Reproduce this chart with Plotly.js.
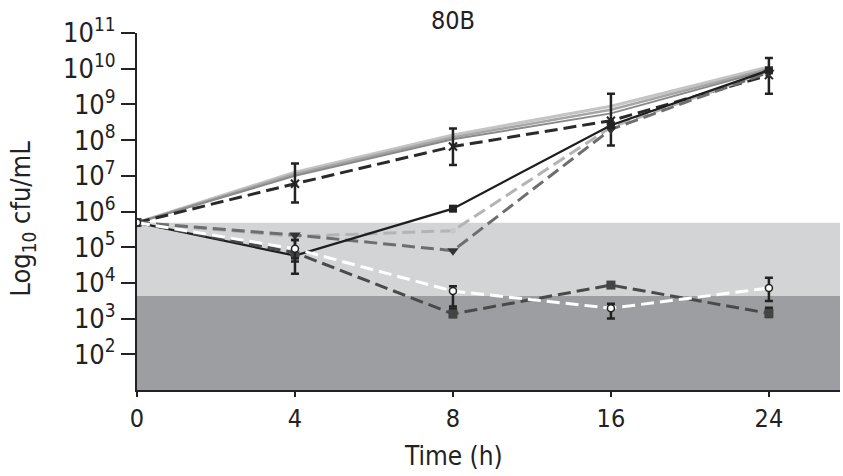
<!DOCTYPE html>
<html>
<head>
<meta charset="utf-8">
<script src="https://cdn.plot.ly/plotly-3.0.1.min.js"></script>
<style>html,body{margin:0;padding:0;background:#fff;}#chart{width:843px;height:476px;}</style>
</head>
<body>
<div id="chart"></div>
<script>
// Time points (h), equally spaced categories
var times = ['0', '4', '8', '16', '24'];

// Growth controls (grey solid lines), cfu/mL
var growthA = [4.9e5, 1.26e7, 1.4e8, 8.9e8, 1.12e10];
var growthB = [4.9e5, 1.12e7, 1.2e8, 7.1e8, 1.0e10];
var growthC = [4.9e5, 1.0e7, 1.05e8, 5.6e8, 9.3e9];

// Dark dashed series (cross markers) with error bars
var dashedBlack = [4.9e5, 6.0e6, 6.6e7, 3.5e8, 6.6e9];
var dashedBlackHi = [4.9e5, 2.2e7, 2.1e8, 2.0e9, 2.0e10];
var dashedBlackLo = [4.9e5, 1.8e6, 2.0e7, 7.1e7, 2.0e9];

// Regrowth series
var solidBlack = [4.9e5, 5.8e4, 1.2e6, 2.6e8, 9.0e9];
var lightGreyDash = [4.9e5, 2.0e5, 2.9e5, 2.3e8, 8.5e9];
var midGreyDash = [4.9e5, 2.2e5, 8.0e4, 2.0e8, 8.0e9];

// Killing series
var darkGreyDash = [4.9e5, 7.0e4, 1.35e3, 8.7e3, 1.4e3];
var darkGreyHi = [4.9e5, 1.6e5, 1.9e3, 1.0e4, 2.0e3];
var darkGreyLo = [4.9e5, 1.8e4, 1.1e3, 7.5e3, 1.1e3];
var whiteDash = [4.9e5, 9.0e4, 5.9e3, 1.95e3, 7.2e3];
var whiteHi = [4.9e5, 1.6e5, 8.1e3, 2.6e3, 1.4e4];
var whiteLo = [4.9e5, 4.0e4, 2.2e3, 1.0e3, 3.1e3];

// Shaded zones
var inoculum = 4.85e5;
var killLimit = 4.3e3;
var axisFloor = 10;

var yTickVals = [1e2, 1e3, 1e4, 1e5, 1e6, 1e7, 1e8, 1e9, 1e10, 1e11];
var yTickText = ['10<sup>2</sup>', '10<sup>3</sup>', '10<sup>4</sup>', '10<sup>5</sup>', '10<sup>6</sup>',
                 '10<sup>7</sup>', '10<sup>8</sup>', '10<sup>9</sup>', '10<sup>10</sup>', '10<sup>11</sup>'];

function errs(vals, hi, lo) {
  return {
    type: 'data', symmetric: false,
    array: vals.map(function (v, i) { return hi[i] - v; }),
    arrayminus: vals.map(function (v, i) { return v - lo[i]; }),
    color: '#222', thickness: 2.5, width: 4
  };
}

var DASH = '13px,6px';
var traces = [
  {x: times, y: growthA, mode: 'lines', line: {color: '#c4c4c4', width: 3}},
  {x: times, y: growthB, mode: 'lines', line: {color: '#a6a6a6', width: 2.5}},
  {x: times, y: growthC, mode: 'lines', line: {color: '#8a8a8a', width: 2}},
  {x: times, y: dashedBlack, mode: 'lines+markers', line: {color: '#2a2a2a', width: 3, dash: DASH},
   marker: {symbol: 'x-thin', size: 8, line: {color: '#222', width: 2}},
   error_y: errs(dashedBlack, dashedBlackHi, dashedBlackLo)},
  {x: times, y: lightGreyDash, mode: 'lines+markers', line: {color: '#b4b4b4', width: 3, dash: DASH},
   marker: {symbol: 'circle', size: 6, color: '#c8c8c8'}},
  {x: times, y: midGreyDash, mode: 'lines+markers', line: {color: '#6e6e6e', width: 3, dash: DASH},
   marker: {symbol: 'triangle-down', size: 10, color: '#333'}},
  {x: times, y: solidBlack, mode: 'lines+markers', line: {color: '#1e1e1e', width: 2.2},
   marker: {symbol: 'square', size: 8, color: '#222'}},
  {x: times, y: darkGreyDash, mode: 'lines+markers', line: {color: '#4a4a4a', width: 3, dash: DASH},
   marker: {symbol: 'square', size: 9, color: '#444'},
   error_y: errs(darkGreyDash, darkGreyHi, darkGreyLo)},
  {x: times, y: whiteDash, mode: 'lines+markers', line: {color: '#ffffff', width: 3, dash: DASH},
   marker: {symbol: 'circle', size: 7, color: '#fff', line: {color: '#222', width: 1.5}},
   error_y: errs(whiteDash, whiteHi, whiteLo)}
];

var FONT = '"Liberation Sans Narrow", "DejaVu Sans Condensed", "Open Sans", sans-serif';

var layout = {
  width: 843, height: 476,
  margin: {l: 137, r: 3, t: 33, b: 86},
  paper_bgcolor: '#fff', plot_bgcolor: '#fff',
  showlegend: false,
  font: {family: FONT, color: '#222', size: 24},
  xaxis: {
    type: 'category', range: [0, 4.45],
    showgrid: false, zeroline: false,
    showline: true, linecolor: '#222', linewidth: 2,
    ticks: 'outside', ticklen: 5, tickwidth: 2, tickcolor: '#222',
    tickfont: {family: FONT, size: 25, color: '#222'}
  },
  yaxis: {
    type: 'log', range: [1, 11],
    tickvals: yTickVals, ticktext: yTickText,
    showgrid: false, zeroline: false,
    showline: true, linecolor: '#222', linewidth: 2,
    ticks: 'outside', ticklen: 14, tickwidth: 2, tickcolor: '#222',
    tickfont: {family: FONT, size: 27, color: '#222'}
  },
  shapes: [
    {type: 'rect', xref: 'paper', yref: 'y', x0: 0, x1: 1, y0: killLimit, y1: inoculum,
     fillcolor: '#d3d4d6', line: {width: 0}, layer: 'below'},
    {type: 'rect', xref: 'paper', yref: 'y', x0: 0, x1: 1, y0: axisFloor, y1: killLimit,
     fillcolor: '#9d9ea1', line: {width: 0}, layer: 'below'}
  ],
  annotations: [
    {text: '80B', xref: 'paper', yref: 'paper', x: 0.45, y: 1, yshift: 13, showarrow: false,
     xanchor: 'center', yanchor: 'middle', font: {family: FONT, size: 25, color: '#222'}},
    {text: 'Time (h)', xref: 'paper', yref: 'paper', x: 0.45, y: 0, yshift: -66, showarrow: false,
     xanchor: 'center', yanchor: 'middle', font: {family: FONT, size: 26, color: '#222'}},
    {text: 'Log<sub>10</sub> cfu/mL', xref: 'paper', yref: 'paper', x: 0, xshift: -114, y: 0.48,
     textangle: -90, showarrow: false, xanchor: 'center', yanchor: 'middle',
     font: {family: FONT, size: 27, color: '#222'}}
  ]
};

Plotly.newPlot('chart', traces, layout, {displayModeBar: false, staticPlot: true});
</script>
</body>
</html>
